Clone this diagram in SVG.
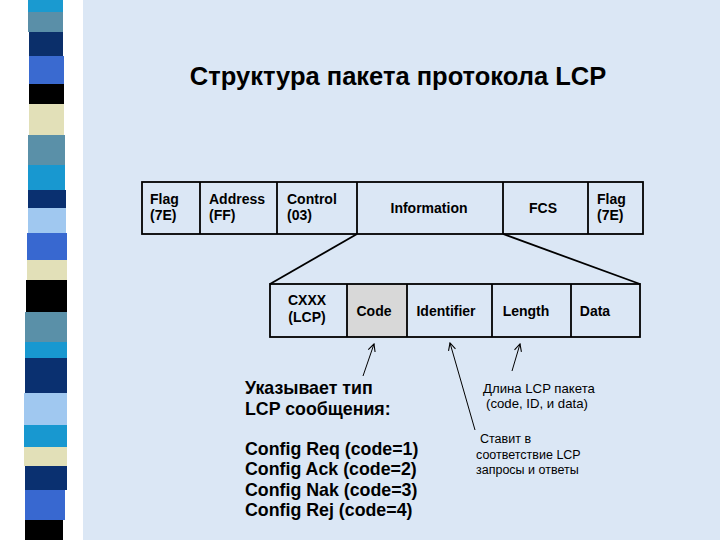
<svg xmlns="http://www.w3.org/2000/svg" width="720" height="540" viewBox="0 0 720 540">
<defs>
<style>
.t{font-family:"Liberation Sans",Arial,sans-serif;fill:#000}
.b{font-weight:bold}
.box{fill:none;stroke:#000;stroke-width:1.8}
.ln{stroke:#000;stroke-width:1.8;fill:none}
.ar{stroke:#000;stroke-width:1;fill:none}
</style>
<marker id="ah" viewBox="0 0 10 10" refX="9" refY="5" markerWidth="9" markerHeight="9" markerUnits="userSpaceOnUse" orient="auto">
<path d="M1,1 L9,5 L1,9" fill="none" stroke="#000" stroke-width="1.2"/>
</marker>
</defs>
<rect x="0" y="0" width="720" height="540" fill="#ffffff"/>
<rect x="83" y="0" width="637" height="540" fill="#dbe7f5"/>
<g id="stripes">
<rect x="28" y="0" width="35" height="12" fill="#1a9ad0"/>
<rect x="28" y="12" width="35" height="20" fill="#5a8fa8"/>
<rect x="29" y="32" width="34" height="24" fill="#0b2f6a"/>
<rect x="29" y="56" width="35" height="28" fill="#3a6ad0"/>
<rect x="29" y="84" width="35" height="20" fill="#000000"/>
<rect x="29" y="104" width="35" height="31" fill="#e2e0b8"/>
<rect x="28" y="135" width="37" height="30" fill="#5a90a8"/>
<rect x="28" y="165" width="37" height="25" fill="#1898d0"/>
<rect x="28" y="190" width="38" height="18" fill="#0a3070"/>
<rect x="28" y="208" width="38" height="25" fill="#a0c8f0"/>
<rect x="27" y="233" width="40" height="27" fill="#3868d0"/>
<rect x="27" y="260" width="40" height="20" fill="#e2e0b8"/>
<rect x="26" y="280" width="41" height="32" fill="#000000"/>
<rect x="25" y="312" width="42" height="30" fill="#5a90a8"/>
<rect x="25" y="342" width="42" height="16" fill="#1898d0"/>
<rect x="25" y="358" width="42" height="35" fill="#0a3070"/>
<rect x="24" y="393" width="43" height="32" fill="#a0c8f0"/>
<rect x="24" y="425" width="43" height="22" fill="#1898d0"/>
<rect x="24" y="447" width="43" height="19" fill="#e2e0b8"/>
<rect x="25" y="466" width="42" height="24" fill="#0a3070"/>
<rect x="25" y="490" width="40" height="30" fill="#3868d0"/>
<rect x="25" y="520" width="38" height="20" fill="#000000"/>
</g>
<text class="t b" x="398" y="85" font-size="25.5" text-anchor="middle">Структура пакета протокола LCP</text>
<g id="frame">
<rect class="box" x="142" y="182" width="501" height="52"/>
<line class="ln" x1="200" y1="182" x2="200" y2="234"/>
<line class="ln" x1="277" y1="182" x2="277" y2="234"/>
<line class="ln" x1="357" y1="182" x2="357" y2="234"/>
<line class="ln" x1="503" y1="182" x2="503" y2="234"/>
<line class="ln" x1="588" y1="182" x2="588" y2="234"/>
</g>
<g id="n-flag1"><text class="t b" font-size="14" x="150" y="204">Flag</text><text class="t b" font-size="14" x="150" y="220">(7E)</text></g>
<g id="n-address"><text class="t b" font-size="14" x="209" y="204">Address</text><text class="t b" font-size="14" x="209" y="220">(FF)</text></g>
<g id="n-control"><text class="t b" font-size="14" x="287" y="204">Control</text><text class="t b" font-size="14" x="287" y="220">(03)</text></g>
<g id="n-info"><text class="t b" font-size="14" x="429" y="213" text-anchor="middle">Information</text></g>
<g id="n-fcs"><text class="t b" font-size="14" x="543" y="213" text-anchor="middle">FCS</text></g>
<g id="n-flag2"><text class="t b" font-size="14" x="597" y="204">Flag</text><text class="t b" font-size="14" x="597" y="220">(7E)</text></g>
<g id="lcp-frame">
<rect x="347" y="284" width="60" height="53" fill="#d8d8d8"/>
<rect class="box" x="270" y="284" width="370" height="53"/>
<line class="ln" x1="347" y1="284" x2="347" y2="337"/>
<line class="ln" x1="407" y1="284" x2="407" y2="337"/>
<line class="ln" x1="492" y1="284" x2="492" y2="337"/>
<line class="ln" x1="571" y1="284" x2="571" y2="337"/>
</g>
<g id="n-cxxx"><text class="t b" font-size="14" x="307" y="305" text-anchor="middle">CXXX</text><text class="t b" font-size="14" x="307" y="322" text-anchor="middle">(LCP)</text></g>
<g id="n-code"><text class="t b" font-size="14" x="374" y="316" text-anchor="middle">Code</text></g>
<g id="n-identifier"><text class="t b" font-size="14" x="446" y="316" text-anchor="middle">Identifier</text></g>
<g id="n-length"><text class="t b" font-size="14" x="526" y="316" text-anchor="middle">Length</text></g>
<g id="n-data"><text class="t b" font-size="14" x="595" y="316" text-anchor="middle">Data</text></g>
<g id="connectors">
<line class="ln" x1="357" y1="234" x2="270" y2="284"/>
<line class="ln" x1="503" y1="234" x2="640" y2="284"/>
<line class="ar" x1="363" y1="376" x2="374" y2="344" marker-end="url(#ah)"/>
<line class="ar" x1="475" y1="430" x2="450" y2="343" marker-end="url(#ah)"/>
<line class="ar" x1="512" y1="371" x2="520" y2="344" marker-end="url(#ah)"/>
</g>
<g id="n-code-note">
<text class="t b" font-size="17.8" x="245" y="394">Указывает тип</text>
<text class="t b" font-size="17.8" x="245" y="415">LCP сообщения:</text>
<text class="t b" font-size="17.8" x="245" y="455">Config Req (code=1)</text>
<text class="t b" font-size="17.8" x="245" y="475">Config Ack (code=2)</text>
<text class="t b" font-size="17.8" x="245" y="496">Config Nak (code=3)</text>
<text class="t b" font-size="17.8" x="245" y="516">Config Rej (code=4)</text>
</g>
<g id="n-length-note">
<text class="t" font-size="13.2" x="483" y="393">Длина LCP пакета</text>
<text class="t" font-size="13.2" x="486" y="408">(code, ID, и data)</text>
</g>
<g id="n-id-note">
<text class="t" font-size="12.5" x="480" y="443">Ставит в</text>
<text class="t" font-size="12.5" x="476" y="459">соответствие LCP</text>
<text class="t" font-size="12.5" x="476" y="474">запросы и ответы</text>
</g>
</svg>
